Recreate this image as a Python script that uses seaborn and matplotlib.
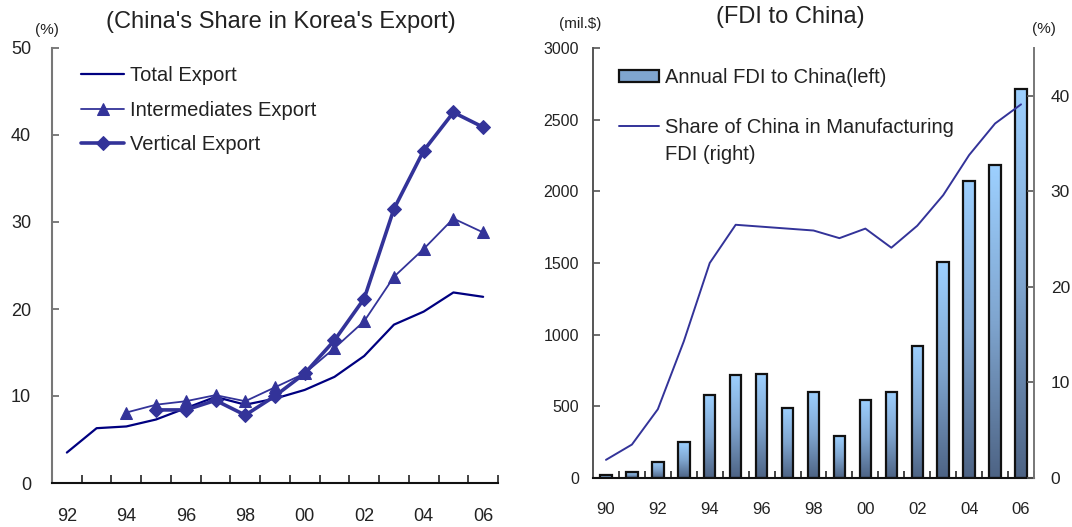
import numpy as np
import pandas as pd
import seaborn as sns
import matplotlib.pyplot as plt
from matplotlib.colors import LinearSegmentedColormap
from matplotlib.patches import Patch
from matplotlib.lines import Line2D

# left panel: China's share in Korea's export (%)
years_exp = ['92', '93', '94', '95', '96', '97', '98', '99', '00', '01', '02', '03', '04', '05', '06']
total_export = [3.5, 6.3, 6.5, 7.3, 8.6, 9.9, 9.0, 9.7, 10.7, 12.2, 14.6, 18.2, 19.7, 21.9, 21.4]
inter_export = [np.nan, np.nan, 8.1, 9.0, 9.4, 10.1, 9.4, 11.0, 12.6, 15.5, 18.6, 23.7, 26.9, 30.4, 28.8]
vertical_export = [np.nan, np.nan, np.nan, 8.4, 8.4, 9.5, 7.8, 10.0, 12.6, 16.4, 21.2, 31.5, 38.2, 42.6, 40.9]

# right panel: FDI to China
years_fdi = ['90', '91', '92', '93', '94', '95', '96', '97', '98', '99', '00', '01', '02', '03', '04', '05', '06']
fdi_china = [19, 42, 112, 251, 582, 719, 729, 489, 603, 296, 547, 603, 921, 1505, 2075, 2182, 2717]
china_share = [1.9, 3.5, 7.2, 14.3, 22.5, 26.5, 26.3, 26.1, 25.9, 25.1, 26.1, 24.1, 26.4, 29.6, 33.8, 37.1, 39.1]

sns.set_theme(style='white')
plt.rcParams['font.family'] = ['Liberation Sans', 'DejaVu Sans']
plt.rcParams['text.color'] = '#222222'
plt.rcParams['xtick.color'] = '#222222'
plt.rcParams['ytick.color'] = '#222222'

W, H = 1072, 527
fig = plt.figure(figsize=(W / 100, H / 100), dpi=100)
fig.patch.set_facecolor('white')

def fx(px):
    return px / W

def fy(py):
    return 1 - py / H

ax1 = fig.add_axes([fx(52), fy(483), fx(498) - fx(52), fy(48) - fy(483)])
ax2 = fig.add_axes([fx(593), fy(478), fx(1034) - fx(593), fy(48) - fy(478)])
ax3 = ax2.twinx()

########## left panel ##########
df_exp = pd.DataFrame({'pos': np.arange(len(years_exp)), 'total': total_export,
                       'inter': inter_export, 'vertical': vertical_export})
sns.lineplot(data=df_exp, x='pos', y='total', ax=ax1, color='#000080', lw=1.6,
             label='Total Export')
sns.lineplot(data=df_exp, x='pos', y='inter', ax=ax1, color='#333399', lw=1.3,
             marker='^', markersize=8, markeredgecolor='#333399', label='Intermediates Export')
sns.lineplot(data=df_exp, x='pos', y='vertical', ax=ax1, color='#333399', lw=2.6,
             marker='D', markersize=7, markeredgecolor='#333399', label='Vertical Export')

ax1.set_xlim(-0.5, len(years_exp) - 0.5)
ax1.set_ylim(0, 50)
ax1.set_xlabel('')
ax1.set_ylabel('')
ax1.set_yticks(np.arange(0, 51, 10))
ax1.set_xticks(np.arange(0, len(years_exp), 2))
ax1.set_xticklabels(years_exp[::2])
ax1.set_xticks(np.arange(0.5, len(years_exp), 1), minor=True)
ax1.tick_params(axis='y', left=True, direction='in', length=5, width=1.2, color='#666666',
                pad=15, labelsize=13)
ax1.tick_params(axis='x', which='major', bottom=True, length=0, pad=18, labelsize=13)
ax1.tick_params(axis='x', which='minor', bottom=True, direction='in', length=6, width=1.2,
                color='#222222')
for s in ['top', 'right']:
    ax1.spines[s].set_visible(False)
ax1.spines['left'].set_color('#777777')
ax1.spines['left'].set_linewidth(1.5)
ax1.spines['bottom'].set_color('#111111')
ax1.spines['bottom'].set_linewidth(1.5)

ax1.legend(loc='upper left', bbox_to_anchor=(fx(81), fy(66)), bbox_transform=fig.transFigure,
           frameon=False, fontsize=14.5, handlelength=2.15, handletextpad=0.3,
           labelspacing=0.78, borderpad=0, borderaxespad=0)

fig.text(fx(281), fy(22), "(China's Share in Korea's Export)", ha='center', va='center', fontsize=17)
fig.text(fx(47), fy(30), '(%)', ha='center', va='center', fontsize=11)

########## right panel ##########
sns.barplot(x=years_fdi, y=fdi_china, ax=ax2, order=years_fdi, width=0.44,
            color='#99ccff', edgecolor='#111111', linewidth=1.6, saturation=1)

# vertical gradient inside each bar: light blue on top, slate at the bottom
cmap = LinearSegmentedColormap.from_list('fdi', ['#4d6384', '#7fa5cf', '#9dd0ff'])
grad = np.linspace(0, 1, 256).reshape(-1, 1)
for bar in ax2.patches:
    x0, y0 = bar.get_x(), bar.get_y()
    w, h = bar.get_width(), bar.get_height()
    ax2.imshow(grad, cmap=cmap, origin='lower', aspect='auto',
               extent=[x0, x0 + w, y0, y0 + h], zorder=1.5)
    bar.set_facecolor('none')
    bar.set_zorder(2)

ax2.set_xlim(-0.5, len(years_fdi) - 0.5)
ax2.set_ylim(0, 3000)
ax2.set_xlabel('')
ax2.set_ylabel('')
ax2.set_yticks(np.arange(0, 3001, 500))
ax2.set_xticks(np.arange(0, len(years_fdi), 2))
ax2.set_xticklabels(years_fdi[::2])
ax2.set_xticks(np.arange(0.5, len(years_fdi), 1), minor=True)
ax2.tick_params(axis='y', left=True, direction='in', length=5, width=1.2, color='#555555',
                pad=10, labelsize=11.5)
ax2.tick_params(axis='x', which='major', bottom=True, length=0, pad=17, labelsize=12)
ax2.tick_params(axis='x', which='minor', bottom=True, direction='in', length=5, width=1.2,
                color='#222222')

sns.lineplot(x=np.arange(len(years_fdi)), y=china_share, ax=ax3, color='#333399', lw=1.4)
ax3.set_ylim(0, 45)
ax3.set_yticks(np.arange(0, 41, 10))
ax3.set_ylabel('')
ax3.tick_params(axis='y', right=True, direction='in', length=5, width=1.2, color='#555555',
                pad=12, labelsize=12.5)

for s in ['top', 'right']:
    ax2.spines[s].set_visible(False)
for s in ['top', 'left', 'bottom']:
    ax3.spines[s].set_visible(False)
ax2.spines['left'].set_color('#555555')
ax2.spines['left'].set_linewidth(1.4)
ax2.spines['bottom'].set_color('#111111')
ax2.spines['bottom'].set_linewidth(1.5)
ax3.spines['right'].set_color('#777777')
ax3.spines['right'].set_linewidth(1.4)

handles = [Patch(facecolor='#7fa5cf', edgecolor='#111111', linewidth=1.6),
           Line2D([], [], color='#333399', lw=1.4)]
ax3.legend(handles, ['Annual FDI to China(left)', 'Share of China in Manufacturing'],
           loc='upper left', bbox_to_anchor=(fx(619), fy(68)), bbox_transform=fig.transFigure,
           frameon=False, fontsize=14.5, handlelength=2.0, handleheight=0.6, handletextpad=0.3,
           labelspacing=1.55, borderpad=0, borderaxespad=0)
fig.text(fx(665), fy(154), 'FDI (right)', ha='left', va='center', fontsize=14.5)

fig.text(fx(790), fy(17), '(FDI to China)', ha='center', va='center', fontsize=17)
fig.text(fx(580), fy(24), '(mil.$)', ha='center', va='center', fontsize=11)
fig.text(fx(1044), fy(29), '(%)', ha='center', va='center', fontsize=11)

fig.savefig('out.png', dpi=100, facecolor='white')
